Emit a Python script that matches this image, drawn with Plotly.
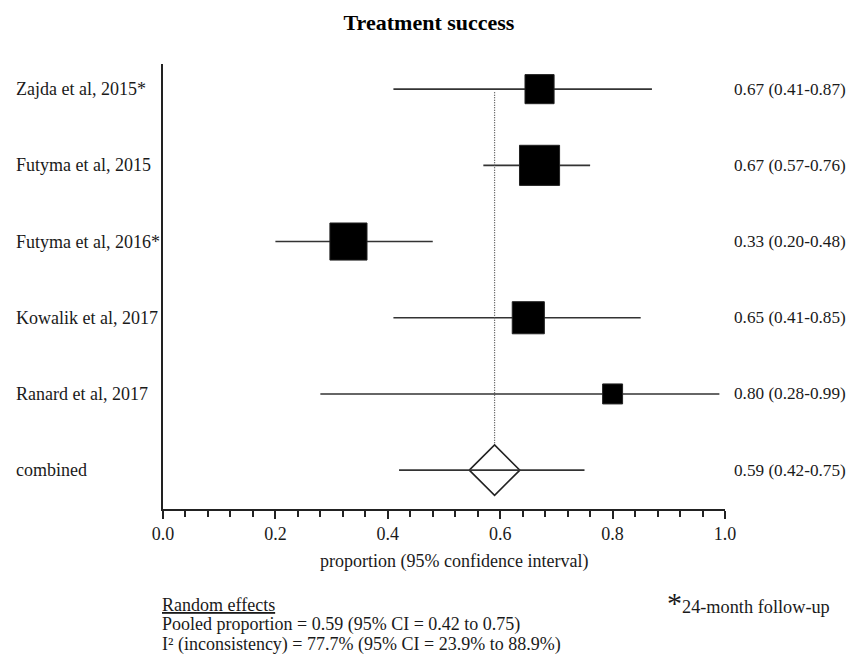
import math
import plotly.graph_objects as go

# ---- study data -------------------------------------------------------
studies = [
    "Zajda et al, 2015*",
    "Futyma et al, 2015",
    "Futyma et al, 2016*",
    "Kowalik et al, 2017",
    "Ranard et al, 2017",
]
proportion = [0.67, 0.67, 0.33, 0.65, 0.80]
ci_low = [0.41, 0.57, 0.20, 0.41, 0.28]
ci_high = [0.87, 0.76, 0.48, 0.85, 0.99]
weight_pct = [16.1, 30.6, 26.2, 19.6, 7.6]

# ---- pooled (random effects) -----------------------------------------
pooled_label = "combined"
pooled = 0.59
pooled_low = 0.42
pooled_high = 0.75
i2 = 77.7
i2_low = 23.9
i2_high = 88.9

x_ticks = [0.0, 0.2, 0.4, 0.6, 0.8, 1.0]

FONT = "Liberation Serif"
TXT = "#1a1a1a"

rows = list(range(1, len(studies) + 1))
pooled_row = len(studies) + 1

fig = go.Figure()

# confidence interval whiskers for each study
seg_x, seg_y = [], []
for r, lo, hi in zip(rows, ci_low, ci_high):
    seg_x += [lo, hi, None]
    seg_y += [r, r, None]
fig.add_trace(go.Scatter(x=seg_x, y=seg_y, mode="lines",
                         line=dict(color="#333333", width=1.6),
                         hoverinfo="skip", showlegend=False))

# vertical dotted reference at the pooled estimate
diamond_half_h = 0.33
diamond_half_w = 0.045
fig.add_trace(go.Scatter(x=[pooled, pooled], y=[rows[0] + 0.04, pooled_row - diamond_half_h],
                         mode="lines", line=dict(color="#444444", width=1.2, dash="1px,1.5px"),
                         hoverinfo="skip", showlegend=False))

# pooled diamond
fig.add_trace(go.Scatter(
    x=[pooled - diamond_half_w, pooled, pooled + diamond_half_w, pooled, pooled - diamond_half_w],
    y=[pooled_row, pooled_row - diamond_half_h, pooled_row, pooled_row + diamond_half_h, pooled_row],
    mode="lines", fill="toself", fillcolor="white",
    line=dict(color="#222222", width=1.6), hoverinfo="skip", showlegend=False))

# pooled confidence interval line
fig.add_trace(go.Scatter(x=[pooled_low, pooled_high], y=[pooled_row, pooled_row],
                         mode="lines", line=dict(color="#333333", width=1.6),
                         hoverinfo="skip", showlegend=False))

# study point estimates, square area proportional to weight
sizes = [7.25 * math.sqrt(w) for w in weight_pct]
fig.add_trace(go.Scatter(x=proportion, y=rows, mode="markers",
                         marker=dict(symbol="square", size=sizes, color="black",
                                     opacity=1,
                                     line=dict(color="#222222", width=1)),
                         showlegend=False))

annotations = []
# study names on the left, estimates on the right
labels = studies + [pooled_label]
all_rows = rows + [pooled_row]
est_text = [f"{p:.2f} ({l:.2f}-{h:.2f})" for p, l, h in zip(proportion, ci_low, ci_high)]
est_text.append(f"{pooled:.2f} ({pooled_low:.2f}-{pooled_high:.2f})")
for lab, r, et in zip(labels, all_rows, est_text):
    annotations.append(dict(text=lab, x=-0.266, xref="paper", y=r, yref="y",
                            xanchor="left", yanchor="middle", showarrow=False,
                            font=dict(family=FONT, size=18, color=TXT)))
    annotations.append(dict(text=et, x=1.012, xref="paper", y=r, yref="y",
                            xanchor="left", yanchor="middle", showarrow=False,
                            font=dict(family=FONT, size=17.2, color=TXT)))

# x-axis caption
annotations.append(dict(text="proportion (95% confidence interval)",
                        x=0.518, xref="paper", y=-0.119, yref="paper",
                        xanchor="center", yanchor="middle", showarrow=False,
                        font=dict(family=FONT, size=18, color=TXT)))

# summary statistics below the axis
summary = [
    "<u>Random effects</u>",
    f"Pooled proportion = {pooled:.2f} (95% CI = {pooled_low:.2f} to {pooled_high:.2f})",
    f"I² (inconsistency) = {i2:.1f}% (95% CI = {i2_low:.1f}% to {i2_high:.1f}%)",
]
for k, line in enumerate(summary):
    annotations.append(dict(text=line, x=-0.003, xref="paper", y=-0.216 - k * 0.0445,
                            yref="paper", xanchor="left", yanchor="middle",
                            showarrow=False, borderpad=0,
                            font=dict(family=FONT, size=18, color=TXT)))

annotations.append(dict(text="<span style='font-size:30px'>*</span>24-month follow-up",
                        x=0.893, xref="paper", y=-0.211, yref="paper",
                        xanchor="left", yanchor="middle", showarrow=False,
                        font=dict(family=FONT, size=18.3, color=TXT)))

fig.update_layout(
    width=858, height=659,
    paper_bgcolor="white", plot_bgcolor="white",
    margin=dict(l=163, r=133, t=64, b=150),
    title=dict(text="<b>Treatment success</b>", x=0.5, xanchor="center",
               y=0.966, yanchor="middle",
               font=dict(family=FONT, size=22, color="black")),
    font=dict(family=FONT, size=18, color=TXT),
    annotations=annotations,
    xaxis=dict(range=[0, 1], tickvals=x_ticks,
               ticktext=[f"{t:.1f}" for t in x_ticks],
               ticks="outside", ticklen=8, tickwidth=1.5, tickcolor="#222222",
               minor=dict(dtick=0.04, tick0=0, ticks="outside", ticklen=6,
                          tickwidth=1.5, tickcolor="#222222"),
               showline=True, linecolor="#222222", linewidth=1.6,
               showgrid=False, zeroline=False,
               tickfont=dict(family=FONT, size=18, color=TXT)),
    yaxis=dict(range=[pooled_row + 0.51, rows[0] - 0.33],
               showline=True, linecolor="#222222", linewidth=1.6,
               showticklabels=False, ticks="", showgrid=False, zeroline=False),
)

fig.write_html("out.html")
